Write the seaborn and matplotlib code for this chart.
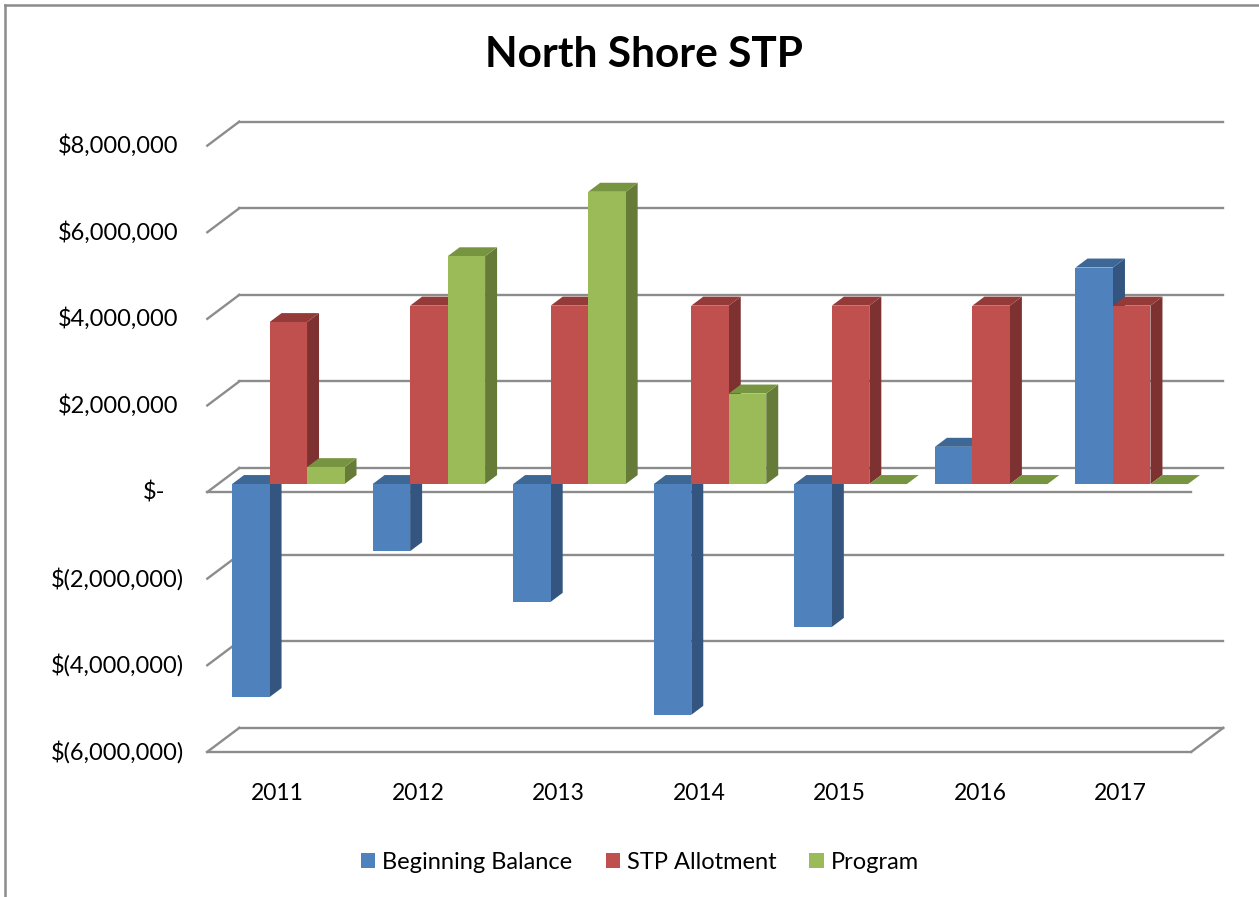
import pandas as pd
import matplotlib
matplotlib.use("Agg")
import matplotlib.pyplot as plt
import seaborn as sns
from matplotlib.patches import Polygon
from matplotlib.lines import Line2D

# Chart data
years = ["2011", "2012", "2013", "2014", "2015", "2016", "2017"]
beginning_balance = [-4920000, -1550000, -2720000, -5330000, -3300000, 860000, 5000000]
stp_allotment = [3740000, 4120000, 4120000, 4120000, 4120000, 4120000, 4120000]
program = [390000, 5260000, 6750000, 2090000, 0, 0, 0]
series_names = ["Beginning Balance", "STP Allotment", "Program"]
tick_values = [8e6, 6e6, 4e6, 2e6, 0, -2e6, -4e6, -6e6]
tick_labels = ["$8,000,000", "$6,000,000", "$4,000,000", "$2,000,000", "$-",
               "$(2,000,000)", "$(4,000,000)", "$(6,000,000)"]

df = pd.DataFrame({"Year": years,
                   "Beginning Balance": beginning_balance,
                   "STP Allotment": stp_allotment,
                   "Program": program})
df_long = df.melt(id_vars="Year", var_name="Series", value_name="Amount")

front_colors = {"Beginning Balance": "#4F81BD", "STP Allotment": "#C0504D", "Program": "#9BBB59"}
side_colors = {"Beginning Balance": "#33557F", "STP Allotment": "#7D3131", "Program": "#667B38"}
top_colors = {"Beginning Balance": "#3D6795", "STP Allotment": "#943B39", "Program": "#779441"}
grid_color = "#8c8c8c"
font = "Lato"

W, H = 1259, 897
fig = plt.figure(figsize=(W / 100, H / 100), dpi=100)
ax_left, ax_right = 218, 1202
ax_top, ax_bottom = 116, 765.5
ax = fig.add_axes([ax_left / W, (H - ax_bottom) / H, (ax_right - ax_left) / W, (ax_bottom - ax_top) / H])

sns.barplot(data=df_long, x="Year", y="Amount", hue="Series", palette=front_colors,
            saturation=1, width=0.8, linewidth=0, edgecolor="none", ax=ax, zorder=3)
ax.set_xlim(-0.5, 6.5)
ax.set_ylim(-6.5e6, 8.5e6)
ax.axis("off")

# pixel -> data scale factors
sx = 7.0 / (ax_right - ax_left)
sy = 15e6 / (ax_bottom - ax_top)


def shift(x, y, dx, dy):
    return (x + dx * sx, y + dy * sy)


FRONT = (-10.7, -8)   # front plane relative to the bar plane, in pixels
BACK = (21.3, 16)     # back wall relative to the bar plane
DEPTH = (12, 9)       # bar depth

# back wall gridlines + left diagonals
for v in tick_values:
    xa, ya = shift(-0.5, v, *BACK)
    xb, yb = shift(6.5, v, *BACK)
    ax.add_line(Line2D([xa, xb], [ya, yb], color=grid_color, lw=1.7, clip_on=False, zorder=1))
    xf, yf = shift(-0.5, v, *FRONT)
    ax.add_line(Line2D([xf, xa], [yf, ya], color=grid_color, lw=1.7, clip_on=False, zorder=1))

# front edges of the zero plane and the floor
for v in [0, -6e6]:
    xa, ya = shift(-0.5, v, *FRONT)
    xb, yb = shift(6.5, v, *FRONT)
    ax.add_line(Line2D([xa, xb], [ya, yb], color=grid_color, lw=1.7, clip_on=False, zorder=1))
xa, ya = shift(6.5, -6e6, *FRONT)
xb, yb = shift(6.5, -6e6, *BACK)
ax.add_line(Line2D([xa, xb], [ya, yb], color=grid_color, lw=1.7, clip_on=False, zorder=1))

# fake 3D faces built from the seaborn bars
for container, name in zip(ax.containers, series_names):
    for bar in container:
        x0 = bar.get_x()
        w = bar.get_width()
        y0 = bar.get_y()
        h = bar.get_height()
        top = max(y0, y0 + h)
        bottom = min(y0, y0 + h)
        z = 3 + x0 * 0.1
        bar.set_zorder(z + 0.01)
        side = [(x0 + w, bottom), (x0 + w, top), shift(x0 + w, top, *DEPTH), shift(x0 + w, bottom, *DEPTH)]
        lid = [(x0, top), (x0 + w, top), shift(x0 + w, top, *DEPTH), shift(x0, top, *DEPTH)]
        if h != 0:
            ax.add_patch(Polygon(side, closed=True, facecolor=side_colors[name], edgecolor="none", zorder=z))
        ax.add_patch(Polygon(lid, closed=True, facecolor=top_colors[name], edgecolor="none", zorder=z))

# y tick labels on the front plane (accounting-style alignment)
for v, lab in zip(tick_values, tick_labels):
    if v > 0:
        pad = -40
    elif v == 0:
        pad = -53
    else:
        pad = -34
    x, y = shift(-0.5, v, pad, FRONT[1])
    ax.text(x, y, lab, ha="right", va="center", fontsize=17, family=font, color="#000000", clip_on=False)

# year labels
for i, yr in enumerate(years):
    x, y = shift(i, -6.5e6, -11, -27.5)
    ax.text(x, y, yr, ha="center", va="center", fontsize=16.5, family=font, color="#000000", clip_on=False)

fig.text(644 / W, 1 - 55 / H, "North Shore STP", ha="center", va="center",
         fontsize=30.5, fontweight="bold", family=font)

sns.move_legend(ax, "center", bbox_to_anchor=(640 / W, 1 - 862 / H), bbox_transform=fig.transFigure,
                ncol=3, frameon=False, title=None, prop={"family": font, "size": 17},
                handlelength=0.6, handleheight=0.6, handletextpad=0.3, columnspacing=1.4)

# chart frame (left and top edges visible)
fig.add_artist(Line2D([5 / W, 5 / W], [0, 1 - 5 / H], color="#8c8c8c", lw=1.8, transform=fig.transFigure))
fig.add_artist(Line2D([5 / W, 1], [1 - 5 / H, 1 - 5 / H], color="#8c8c8c", lw=1.8, transform=fig.transFigure))

fig.savefig("out.png", dpi=100, facecolor="white")
